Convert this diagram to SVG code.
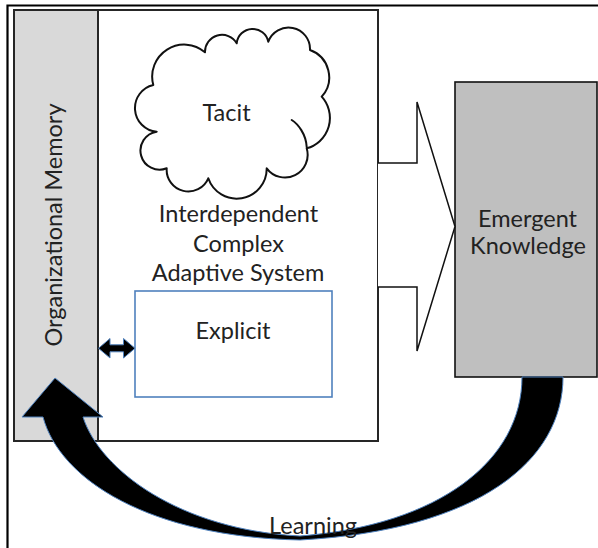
<svg xmlns="http://www.w3.org/2000/svg" width="598" height="548" viewBox="0 0 598 548">
<style>
  .lbl { font-family: Lato, "Open Sans", "Liberation Sans", sans-serif; font-size: 23.5px; fill: #222222; text-anchor: middle; }
  .box { stroke: #262626; stroke-width: 2; }
  .outline { fill: none; stroke: #111; stroke-width: 2; stroke-linejoin: round; stroke-linecap: round; }
  .blk { fill: #000; stroke: #4f81bd; stroke-width: 1; stroke-linejoin: miter; }
</style>

<rect width="598" height="548" fill="#ffffff"/>

<g id="frame">
  <path d="M7.5,548 L7.5,5.5 L598,5.5" fill="none" stroke="#000" stroke-width="2.2"/>
</g>

<g id="node-system">
  <rect x="14" y="10" width="364" height="431" fill="#ffffff" class="box"/>
  <text class="lbl" x="238.5" y="222">Interdependent</text>
  <text class="lbl" x="238.5" y="251.5">Complex</text>
  <text class="lbl" x="238" y="281">Adaptive System</text>
</g>

<g id="node-memory">
  <rect x="14" y="10" width="84" height="431" fill="#d9d9d9" class="box"/>
  <text class="lbl" transform="translate(62,225) rotate(-90)" x="0" y="0">Organizational Memory</text>
</g>

<g id="node-tacit">
  <path class="outline" style="fill:#ffffff" d="M153.3,85
    A32,32 0 0 1 205,52.3
    A17,17 0 0 1 236.7,43.3
    A16,16 0 0 1 268.3,41.7
    A21.5,21.5 0 0 1 310,50
    A29,29 0 0 1 321.7,96.7
    A31.5,31.5 0 0 1 306.7,148.3
    A22.7,22.7 0 0 1 266.7,168.3
    A30,30 0 0 1 208.3,178.3
    A21.7,21.7 0 0 1 166.7,168.3
    A19.1,19.1 0 1 1 156.7,131.7
    A23.7,23.7 0 0 1 153.3,85 Z"/>
  <path class="outline" d="M291.7,120 C298,124 306,134 306.7,147"/>
  <text class="lbl" x="226.5" y="121">Tacit</text>
</g>

<g id="node-explicit">
  <rect x="135" y="291" width="197" height="106" fill="#ffffff" stroke="#4f81bd" stroke-width="1.6"/>
  <text class="lbl" x="233" y="339">Explicit</text>
</g>

<g id="node-emergent">
  <rect x="455" y="82" width="142" height="295" fill="#bfbfbf" stroke="#111" stroke-width="1.6"/>
  <text class="lbl" x="527.5" y="227">Emergent</text>
  <text class="lbl" x="528" y="254">Knowledge</text>
</g>

<g id="connectors">
  <path d="M378,163 L417,163 L417,102 L455,226.5 L417,351 L417,287 L378,287" fill="#ffffff" stroke="#111" stroke-width="1.5" stroke-linejoin="miter"/>
  <path class="blk" d="M98.5,348.3 L110,338.5 L110,344.8 L123.5,344.8 L123.5,338.5 L135,348.3 L123.5,358 L123.5,351.8 L110,351.8 L110,358 Z"/>
  <path class="blk" d="M55,378 L103,417 L83,417 C100,470 180,530 300,536 C440,525 522,460 522,377 L563,377 C563,460 480,530 300,540 C150,537 60,480 43,417 L22,417 Z"/>
  <text class="lbl" x="313" y="534">Learning</text>
</g>
</svg>
